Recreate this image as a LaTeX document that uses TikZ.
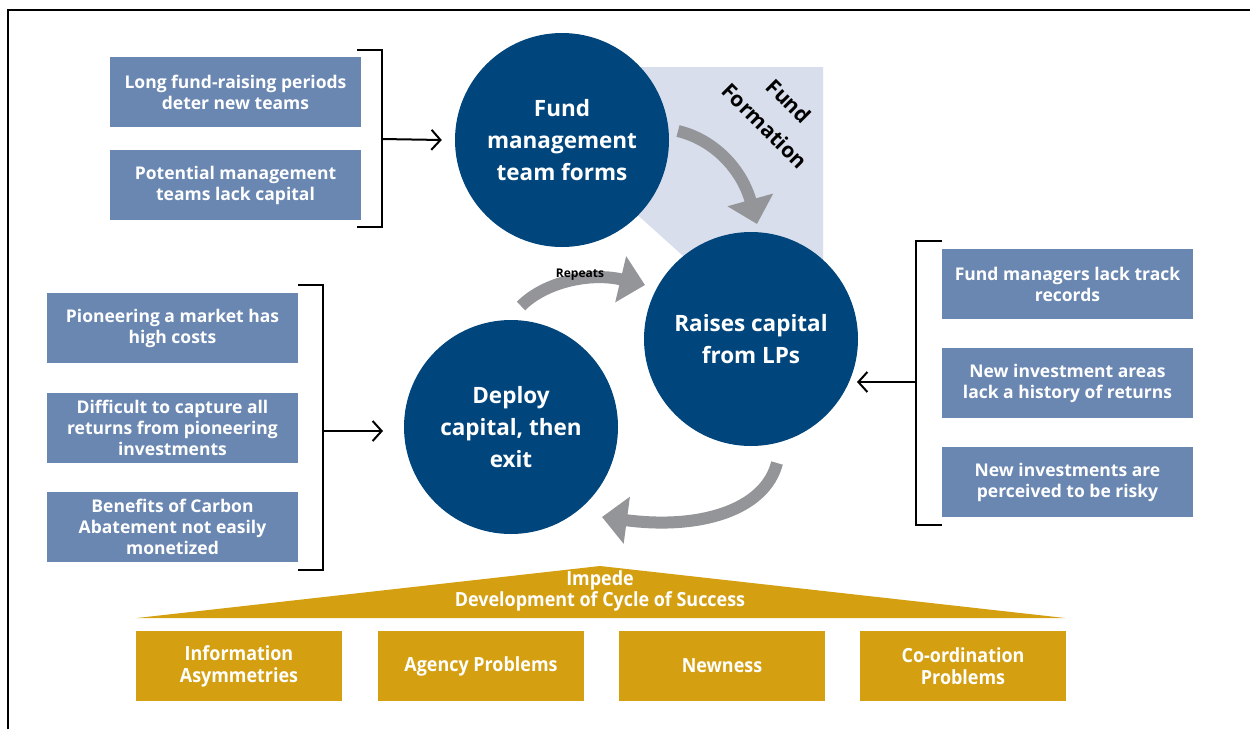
\documentclass[tikz,border=0pt]{standalone}
\usepackage{fontspec}
\setmainfont{Open Sans}
\newfontfamily\condfont[FakeStretch=0.92]{Open Sans}
\usetikzlibrary{arrows.meta}
\definecolor{navy}{RGB}{0,69,124}
\definecolor{slate}{RGB}{106,135,178}
\definecolor{lav}{RGB}{217,222,236}
\definecolor{gold}{RGB}{212,160,18}
\definecolor{arrgray}{RGB}{147,149,152}
\begin{document}
\begin{tikzpicture}[x=1pt,y=-1pt,
  circ/.style={circle, fill=navy, minimum size=214pt, inner sep=0pt, text=white, align=center,
    font=\bfseries\fontsize{22.5}{32}\selectfont},
  box/.style={fill=slate, text=white, align=center, minimum width=251pt, minimum height=70pt,
    inner sep=0pt, font=\bfseries\fontsize{17.5}{21}\selectfont},
  goldbox/.style={fill=gold, text=white, align=center, minimum width=206pt, minimum height=70pt,
    inner sep=0pt, font=\condfont\bfseries\fontsize{19.5}{22}\selectfont},
  ffl/.style={rotate=-45, font=\bfseries\fontsize{21}{25}\selectfont, inner sep=0pt},
  brk/.style={draw=black, line width=2.2pt},
  blk/.style={draw=black, line width=2pt, -{Straight Barb[length=9pt,width=20pt,line width=2pt]}},
  garrow/.style={draw=arrgray, line width=12pt, -{Triangle[length=25pt,width=46pt]}}
]
\useasboundingbox (0,0) rectangle (1250,729);
\fill[white] (0,0) rectangle (1250,729);
% frame
\draw[line width=2.5pt] (8,729) -- (8,10) -- (1251,10);

% fund formation background
\fill[lav] (562,67) -- (823,67) -- (823,339) -- (751,317) -- (562,147) -- cycle;

% circles
\node[circ] (fm) at (562,140) {Fund\\management\\team forms};
\node[circ] (rc) at (751,339) {Raises capital\\from LPs};
\node[circ] (dep) at (511,427) {Deploy\\capital, then\\exit};

% fund formation label
\node[ffl] (ff1) at (789,101) {Fund};
\node[ffl] (ff2) at (765,126) {Formation};

% gray cycle arrows
\coordinate (g1s) at (678,131);
\coordinate (g1e) at (757,224);
\draw[garrow] (g1s) .. controls (715,140) and (742,170) .. (g1e);
\coordinate (g2s) at (521,306);
\coordinate (g2e) at (645,285);
\draw[garrow] (g2s) .. controls (545,282) and (590,272) .. (g2e);
\node[font=\bfseries\fontsize{12}{14}\selectfont] (rep) at (580,275) {Repeats};
\coordinate (g3s) at (777,463);
\coordinate (g3e) at (602,517);
\draw[garrow] (g3s) .. controls (765,510) and (700,530) .. (g3e);

% top-left boxes
\node[box] (t1) at (235.5,92) {Long fund-raising periods\\deter new teams};
\node[box] (t2) at (235.5,185) {Potential management\\teams lack capital};
\draw[brk] (357,50) -| (382,227) -- (357,227);
\coordinate (b1) at (382,139);
\draw[blk] (b1) -- ([xshift=-13pt]fm.west);

% left boxes
\node[box] (l1) at (172.5,328) {Pioneering a market has\\high costs};
\node[box] (l2) at (172.5,427.5) {Difficult to capture all\\returns from pioneering\\investments};
\node[box] (l3) at (172.5,526.5) {Benefits of Carbon\\Abatement not easily\\monetized};
\draw[brk] (298,285) -| (323,570) -- (298,570);
\coordinate (b2) at (323,431);
\coordinate (b2e) at (383,431);
\draw[blk] (b2) -- (b2e);

% right boxes
\node[box] (r1) at (1067.5,284) {Fund managers lack track\\records};
\node[box] (r2) at (1067.5,383) {New investment areas\\lack a history of returns};
\node[box] (r3) at (1067.5,482) {New investments are\\perceived to be risky};
\draw[brk] (942,241) -| (916,525) -- (942,525);
\coordinate (b3) at (916,382);
\coordinate (b3e) at (857,382);
\draw[blk] (b3) -- (b3e);

% bottom roof
\fill[gold] (600,566) -- (1065,618) -- (137,618) -- cycle;
\node[text=white, align=center, font=\condfont\bfseries\fontsize{19.5}{21}\selectfont] (imp) at (600,591) {Impede\\Development of Cycle of Success};

% bottom boxes
\node[goldbox] (g1) at (239,666) {Information\\Asymmetries};
\node[goldbox] (g2) at (481,666) {Agency Problems};
\node[goldbox] (g3) at (722,666) {Newness};
\node[goldbox] (g4) at (963,666) {Co-ordination\\Problems};
\end{tikzpicture}
\end{document}
